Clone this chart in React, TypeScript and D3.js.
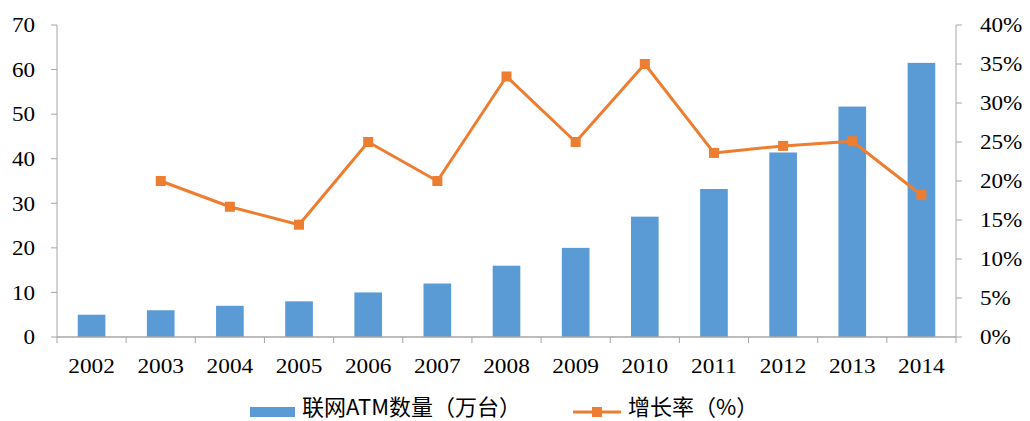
import React from "react";
import * as d3 from "d3";

const years = ["2002","2003","2004","2005","2006","2007","2008","2009","2010","2011","2012","2013","2014"];
const atmCount = [5, 6, 7, 8, 10, 12, 16, 20, 27, 33.2, 41.4, 51.7, 61.5];
const growthRate: (number | null)[] = [null, 0.20, 0.167, 0.144, 0.25, 0.20, 0.334, 0.25, 0.35, 0.236, 0.245, 0.251, 0.182];
const leftTicks = [0, 10, 20, 30, 40, 50, 60, 70];
const rightTicks = [0, 0.05, 0.1, 0.15, 0.2, 0.25, 0.3, 0.35, 0.4];
const barLabel = "联网ATM数量（万台）";
const lineLabel = "增长率（%）";

export default function App() {
  const W = 1030, H = 421;
  const left = 57, right = 956, top = 25, bottom = 337;
  const x = d3.scaleBand<string>().domain(years).range([left, right]).paddingInner(0.6).paddingOuter(0.3);
  const xOuter = d3.scaleBand<string>().domain(years).range([left, right]).padding(0);
  const yL = d3.scaleLinear().domain([0, 70]).range([bottom, top]);
  const yR = d3.scaleLinear().domain([0, 0.4]).range([bottom, top]);
  const axisColor = "#a6a6a6";
  const blue = "#5B9BD5";
  const orange = "#ED7D31";
  const serif = "'Liberation Serif', 'DejaVu Serif', serif";
  const sans = "'Noto Sans CJK SC', 'Noto Sans', sans-serif";

  const pts = years
    .map((yr, i) => ({ yr, v: growthRate[i] }))
    .filter((d) => d.v !== null) as { yr: string; v: number }[];
  const line = d3
    .line<{ yr: string; v: number }>()
    .x((d) => (xOuter(d.yr) as number) + xOuter.bandwidth() / 2)
    .y((d) => yR(d.v));

  const xTickPos = years.map((y) => xOuter(y) as number).concat([right]);

  return (
    <svg width={W} height={H} style={{ position: "absolute", left: 0, top: 0, background: "#fff" }}>
      {/* bars */}
      {years.map((yr, i) => (
        <rect key={yr} x={x(yr)} y={yL(atmCount[i])} width={x.bandwidth()} height={bottom - yL(atmCount[i])} fill={blue} />
      ))}
      {/* left axis */}
      <line x1={left} x2={left} y1={top} y2={bottom} stroke={axisColor} strokeWidth={1} />
      {leftTicks.map((t) => (
        <g key={t}>
          <line x1={left - 6} x2={left} y1={yL(t)} y2={yL(t)} stroke={axisColor} />
          <text x={35} y={yL(t)} dy="0.35em" textAnchor="end" fontFamily={serif} fontSize={21} fill="#000"
            transform={`translate(35,0) scale(1.1,1) translate(-35,0)`}>{t}</text>
        </g>
      ))}
      {/* right axis */}
      <line x1={right} x2={right} y1={top} y2={bottom} stroke={axisColor} strokeWidth={1} />
      {rightTicks.map((t) => (
        <g key={t}>
          <line x1={right} x2={right + 6} y1={yR(t)} y2={yR(t)} stroke={axisColor} />
          <text x={980} y={yR(t)} dy="0.35em" textAnchor="start" fontFamily={serif} fontSize={21} fill="#000"
            transform={`translate(980,0) scale(1.1,1) translate(-980,0)`}>{Math.round(t * 100) + "%"}</text>
        </g>
      ))}
      {/* x axis */}
      <line x1={left} x2={right} y1={bottom} y2={bottom} stroke={axisColor} strokeWidth={1.5} />
      {xTickPos.map((p, i) => (
        <line key={i} x1={p} x2={p} y1={bottom} y2={bottom + 6} stroke={axisColor} />
      ))}
      {years.map((yr) => {
        const cx = (xOuter(yr) as number) + xOuter.bandwidth() / 2;
        return (
          <text key={yr} x={cx} y={373} textAnchor="middle" fontFamily={serif} fontSize={22} fill="#000"
            transform={`translate(${cx},0) scale(1.06,1) translate(${-cx},0)`}>{yr}</text>
        );
      })}
      {/* line */}
      <path d={line(pts) || ""} fill="none" stroke={orange} strokeWidth={3} strokeLinejoin="round" />
      {pts.map((d) => (
        <rect key={d.yr} x={(xOuter(d.yr) as number) + xOuter.bandwidth() / 2 - 5} y={yR(d.v) - 5} width={10} height={10} fill={orange} />
      ))}
      {/* legend */}
      <rect x={250} y={407} width={45} height={10} fill={blue} />
      <text x={302} y={415} fontFamily={sans} fontSize={22} fill="#000">{barLabel}</text>
      <line x1={573} x2={621} y1={412} y2={412} stroke={orange} strokeWidth={3} />
      <rect x={592} y={407} width={10} height={10} fill={orange} />
      <text x={628} y={415} fontFamily={sans} fontSize={22} fill="#000">{lineLabel}</text>
    </svg>
  );
}
